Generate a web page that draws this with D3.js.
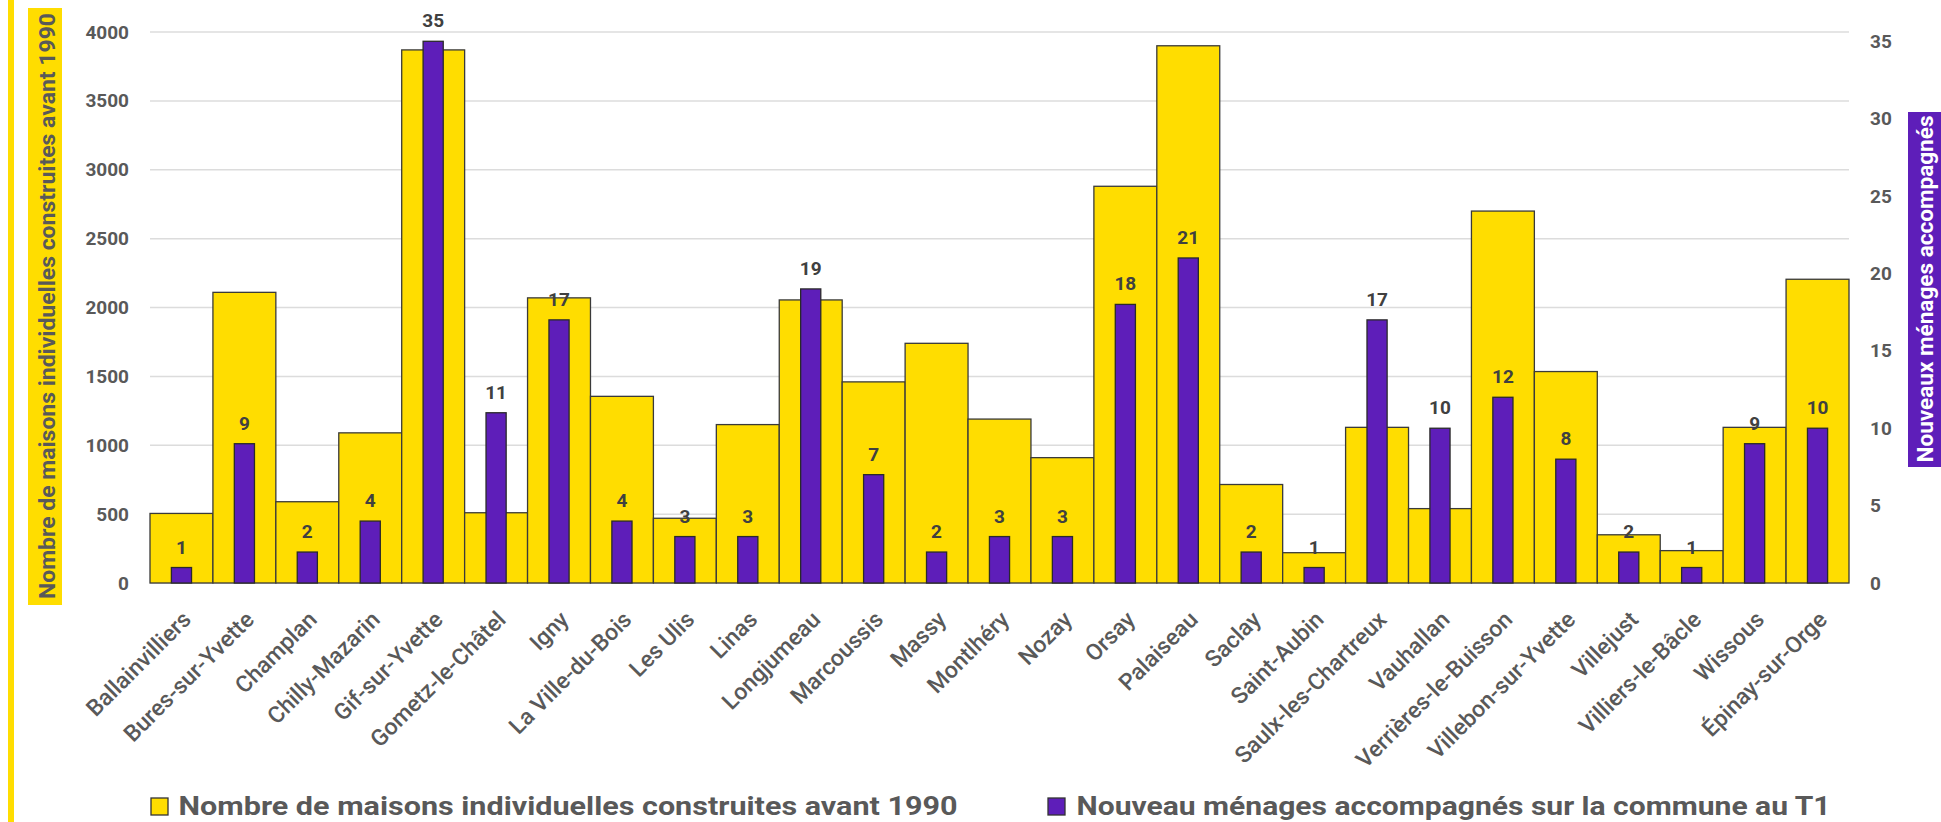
<!DOCTYPE html>
<html>
<head>
<meta charset="utf-8">
<script src="https://cdn.jsdelivr.net/npm/d3@7"></script>
<style>
  body { margin: 0; background: #fff; }
  text { font-family: Roboto, "DejaVu Sans", sans-serif; }
</style>
</head>
<body>
<div id="chart"></div>
<script>
// Data
const communes = ['Ballainvilliers', 'Bures-sur-Yvette', 'Champlan', 'Chilly-Mazarin', 'Gif-sur-Yvette',
  'Gometz-le-Châtel', 'Igny', 'La Ville-du-Bois', 'Les Ulis', 'Linas', 'Longjumeau', 'Marcoussis', 'Massy',
  'Montlhéry', 'Nozay', 'Orsay', 'Palaiseau', 'Saclay', 'Saint-Aubin', 'Saulx-les-Chartreux', 'Vauhallan',
  'Verrières-le-Buisson', 'Villebon-sur-Yvette', 'Villejust', 'Villiers-le-Bâcle', 'Wissous', 'Épinay-sur-Orge'];
const maisons = [505, 2110, 590, 1090, 3870, 510, 2070, 1355, 470, 1150, 2055, 1460, 1740, 1190, 910,
  2880, 3900, 715, 220, 1130, 540, 2700, 1535, 350, 235, 1130, 2205];
const menages = [1, 9, 2, 4, 35, 11, 17, 4, 3, 3, 19, 7, 2, 3, 3, 18, 21, 2, 1, 17, 10, 12, 8, 2, 1, 9, 10];
const leftTicks = [0, 500, 1000, 1500, 2000, 2500, 3000, 3500, 4000];
const rightTicks = [0, 5, 10, 15, 20, 25, 30, 35];
const leftTitle = 'Nombre de maisons individuelles construites avant 1990';
const rightTitle = 'Nouveaux ménages accompagnés';
const legendItems = ['Nombre de maisons individuelles construites avant 1990',
  'Nouveau ménages accompagnés sur la commune au T1'];

const W = 1941, H = 822;
const yellow = '#FFDD00', purple = '#5E1EB9', grey = '#595959', dark = '#404040';
const plot = {left: 150, right: 1849, top: 32, bottom: 583};

const svg = d3.select('#chart').append('svg')
  .attr('width', W)
  .attr('height', H);

svg.append('rect').attr('width', W).attr('height', H).attr('fill', '#fff');

// yellow side stripe
svg.append('rect')
  .attr('x', 8).attr('y', 0)
  .attr('width', 6).attr('height', H)
  .attr('fill', yellow);

// Scales
const x = d3.scaleBand()
  .domain(communes)
  .range([plot.left, plot.right])
  .padding(0);

const yLeft = d3.scaleLinear()
  .domain([0, 4000])
  .range([plot.bottom, plot.top]);

// right axis: 35 sits a bit under the 4000 line
const yRight = d3.scaleLinear()
  .domain([0, 35.6])
  .range([plot.bottom, plot.top]);

// Gridlines
svg.append('g')
  .selectAll('line')
  .data(leftTicks)
  .enter()
  .append('line')
  .attr('x1', plot.left)
  .attr('x2', plot.right)
  .attr('y1', d => yLeft(d))
  .attr('y2', d => yLeft(d))
  .attr('stroke', '#dcdcdc')
  .attr('stroke-width', 1.5);

// Axes
const leftAxis = svg.append('g')
  .attr('transform', `translate(${plot.left},0)`)
  .call(d3.axisLeft(yLeft).tickValues(leftTicks).tickFormat(d3.format('d')).tickSize(0).tickPadding(21));

const rightAxis = svg.append('g')
  .attr('transform', `translate(${plot.right},0)`)
  .call(d3.axisRight(yRight).tickValues(rightTicks).tickFormat(d3.format('d')).tickSize(0).tickPadding(21));

[leftAxis, rightAxis].forEach(g => {
  g.select('.domain').remove();
  g.selectAll('text')
    .attr('fill', grey)
    .style('font-size', '19px')
    .style('font-weight', '700')
    .style('font-family', 'Roboto, sans-serif');
});

// Yellow bars (maisons)
svg.selectAll('.bar-maisons')
  .data(communes)
  .enter()
  .append('rect')
  .attr('class', 'bar-maisons')
  .attr('x', d => x(d))
  .attr('y', (d, i) => yLeft(maisons[i]))
  .attr('width', x.bandwidth())
  .attr('height', (d, i) => plot.bottom - yLeft(maisons[i]))
  .attr('fill', yellow)
  .attr('stroke', '#3a3a3a')
  .attr('stroke-width', 1.3);

// Purple bars (ménages)
const pw = x.bandwidth() * 0.32;
svg.selectAll('.bar-menages')
  .data(communes)
  .enter()
  .append('rect')
  .attr('class', 'bar-menages')
  .attr('x', d => x(d) + (x.bandwidth() - pw) / 2)
  .attr('y', (d, i) => yRight(menages[i]))
  .attr('width', pw)
  .attr('height', (d, i) => plot.bottom - yRight(menages[i]))
  .attr('fill', purple)
  .attr('stroke', '#2a2a2a')
  .attr('stroke-width', 1.3);

// Value labels above purple bars
svg.selectAll('.value-label')
  .data(communes)
  .enter()
  .append('text')
  .attr('class', 'value-label')
  .attr('x', d => x(d) + x.bandwidth() / 2)
  .attr('y', (d, i) => yRight(menages[i]) - 14)
  .attr('text-anchor', 'middle')
  .style('font-size', '19px')
  .style('font-weight', '700')
  .attr('fill', dark)
  .text((d, i) => menages[i]);

// Category labels, rotated
svg.selectAll('.cat-label')
  .data(communes)
  .enter()
  .append('text')
  .attr('class', 'cat-label')
  .attr('transform', d => `translate(${x(d) + x.bandwidth() / 2 + 11},621) rotate(-45)`)
  .attr('text-anchor', 'end')
  .style('font-size', '23px')
  .style('font-weight', '500')
  .attr('fill', grey)
  .text(d => d);

// Left axis title on yellow band
svg.append('rect')
  .attr('x', 28).attr('y', 8)
  .attr('width', 34).attr('height', 597)
  .attr('fill', yellow);

svg.append('text')
  .attr('transform', 'translate(55,306) rotate(-90)')
  .attr('text-anchor', 'middle')
  .attr('textLength', 586)
  .attr('lengthAdjust', 'spacingAndGlyphs')
  .style('font-size', '22px')
  .style('font-weight', '700')
  .attr('fill', grey)
  .text(leftTitle);

// Right axis title on purple band
svg.append('rect')
  .attr('x', 1908).attr('y', 112)
  .attr('width', 40).attr('height', 355)
  .attr('fill', purple);

svg.append('text')
  .attr('transform', 'translate(1933,289) rotate(-90)')
  .attr('text-anchor', 'middle')
  .attr('textLength', 347)
  .attr('lengthAdjust', 'spacingAndGlyphs')
  .style('font-size', '22px')
  .style('font-weight', '700')
  .attr('fill', '#fff')
  .text(rightTitle);

// Legend
const legendPos = [{sx: 151, tx: 178.5, len: 779, color: yellow},
                   {sx: 1048, tx: 1076.5, len: 754, color: purple}];
legendItems.forEach((label, i) => {
  const p = legendPos[i];
  svg.append('rect')
    .attr('x', p.sx).attr('y', 798)
    .attr('width', 17).attr('height', 17)
    .attr('fill', p.color)
    .attr('stroke', '#333')
    .attr('stroke-width', 1.3);
  svg.append('text')
    .attr('x', p.tx).attr('y', 815)
    .attr('textLength', p.len)
    .attr('lengthAdjust', 'spacingAndGlyphs')
    .style('font-size', '26px')
    .style('font-weight', '700')
    .attr('fill', grey)
    .text(label);
});
</script>
</body>
</html>
